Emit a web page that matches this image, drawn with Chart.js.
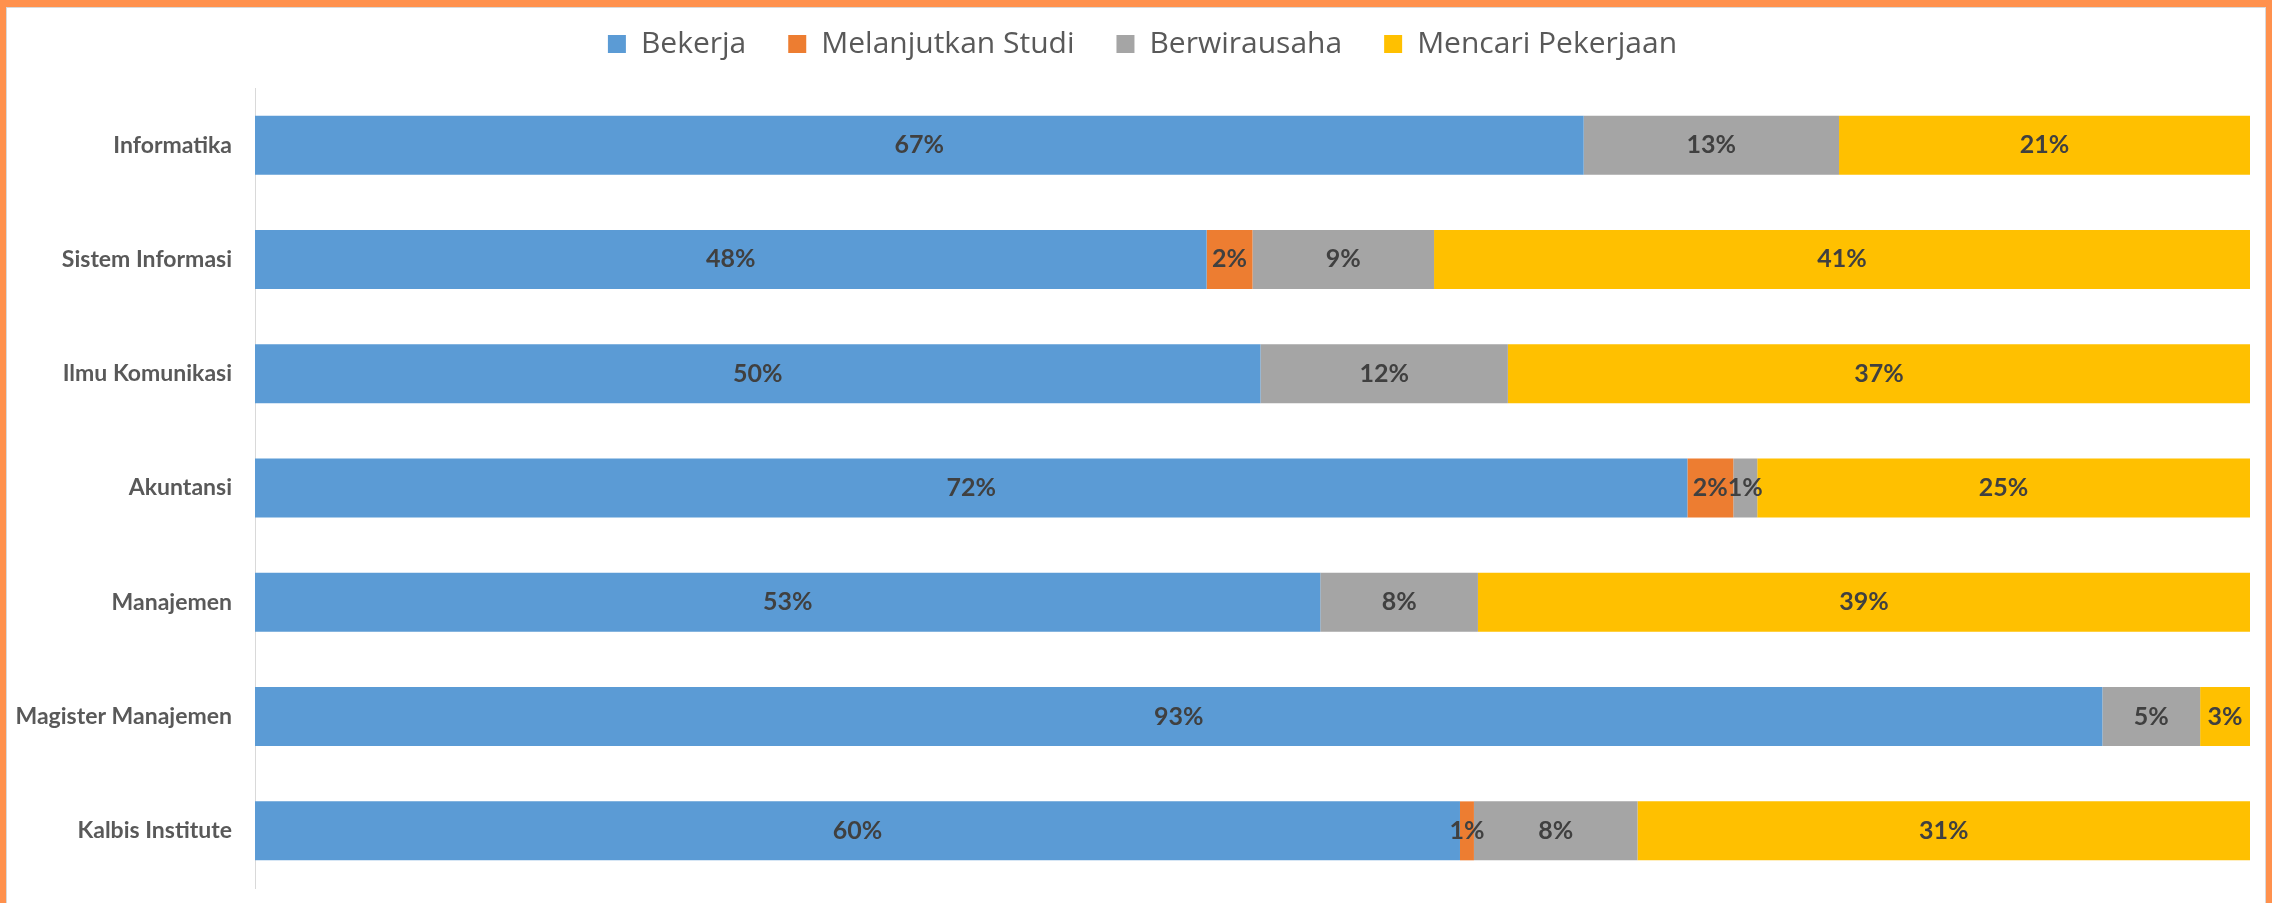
<!DOCTYPE html>
<html>
<head>
<meta charset="utf-8">
<script src="https://cdn.jsdelivr.net/npm/chart.js@4/dist/chart.umd.min.js"></script>
<style>
  html, body { margin: 0; padding: 0; background: #fff; }
  body { width: 2272px; height: 903px; overflow: hidden; position: relative; }
  .frame {
    position: absolute; left: 0; top: 0; width: 2272px; height: 903px;
    box-sizing: border-box;
    border-top: 7px solid #FF914D; border-left: 6px solid #FF914D; border-right: 6px solid #FF914D;
  }
  .inner {
    position: absolute; left: 0; top: 0; right: 0; bottom: 0;
    border: 1px solid #D9D9D9; border-bottom: none;
  }
  #chart { position: absolute; left: 0; top: 0; width: 2258px; height: 895px; }
</style>
</head>
<body>
<div class="frame"><div class="inner"><canvas id="chart" width="2258" height="895"></canvas></div></div>
<script>
  const categories = [
    "Informatika",
    "Sistem Informasi",
    "Ilmu Komunikasi",
    "Akuntansi",
    "Manajemen",
    "Magister Manajemen",
    "Kalbis Institute",
  ];
  const bekerja = [66.6, 47.7, 50.4, 71.8, 53.4, 92.6, 60.4];
  const melanjutkanStudi = [0, 2.3, 0, 2.3, 0, 0, 0.7];
  const berwirausaha = [12.8, 9.1, 12.4, 1.2, 7.9, 4.9, 8.2];
  const mencariPekerjaan = [20.6, 40.9, 37.2, 24.7, 38.7, 2.5, 30.7];

  const FONT = "Lato, 'Open Sans', sans-serif";

  // draws the percentage in the middle of each segment
  const barLabels = {
    id: "barLabels",
    afterDatasetsDraw(chart) {
      const ctx = chart.ctx;
      ctx.save();
      ctx.font = `bold 25px ${FONT}`;
      ctx.fillStyle = "#404040";
      ctx.textAlign = "center";
      ctx.textBaseline = "middle";
      chart.data.datasets.forEach((ds, i) => {
        const meta = chart.getDatasetMeta(i);
        meta.data.forEach((bar, j) => {
          const v = ds.data[j];
          if (!v) return;
          ctx.fillText(Math.round(v) + "%", (bar.x + bar.base) / 2, bar.y);
        });
      });
      ctx.restore();
    },
  };

  // big gaps between legend items, but keep the legend row close to the top
  const legendShift = {
    id: "legendShift",
    afterLayout(chart) {
      const lg = chart.legend;
      lg.top -= 21;
      lg.bottom -= 21;
      lg.left += 14;
      lg.right += 14;
    },
  };

  new Chart(document.getElementById("chart"), {
    type: "bar",
    data: {
      labels: categories,
      datasets: [
        { label: "Bekerja", data: bekerja, backgroundColor: "#5B9BD5" },
        { label: "Melanjutkan Studi", data: melanjutkanStudi, backgroundColor: "#ED7D31" },
        { label: "Berwirausaha", data: berwirausaha, backgroundColor: "#A5A5A5" },
        { label: "Mencari Pekerjaan", data: mencariPekerjaan, backgroundColor: "#FFC000" },
      ],
    },
    options: {
      indexAxis: "y",
      responsive: false,
      animation: false,
      layout: { padding: { left: 0, right: 15, top: 0, bottom: 15 } },
      datasets: { bar: { categoryPercentage: 1, barPercentage: 0.516, borderWidth: 0 } },
      scales: {
        x: { stacked: true, min: 0, max: 100, display: false },
        y: {
          stacked: true,
          grid: { display: false, drawTicks: false },
          border: { display: true, color: "#D9D9D9", width: 1 },
          ticks: { padding: 23, color: "#595959", font: { family: FONT, size: 23, weight: "bold" } },
          afterFit(scale) {
            scale.width = 248;
            scale.paddingTop = 0;
            scale.paddingBottom = 0;
          },
        },
      },
      plugins: {
        legend: {
          position: "top",
          maxHeight: 80,
          labels: {
            boxWidth: 18, boxHeight: 18, padding: 42,
            color: "#595959",
            font: { family: "'Open Sans', sans-serif", size: 30 },
          },
        },
        tooltip: { enabled: false },
      },
    },
    plugins: [barLabels, legendShift],
  });
</script>
</body>
</html>
